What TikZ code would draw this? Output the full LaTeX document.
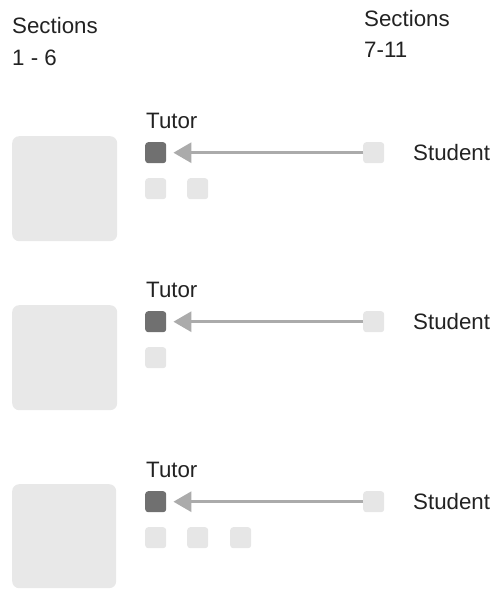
\documentclass[tikz,border=0pt]{standalone}
\usepackage{fontspec}
\setmainfont{Liberation Sans}
\usetikzlibrary{arrows.meta}
\definecolor{txtc}{HTML}{222222}
\definecolor{bigc}{HTML}{E8E8E8}
\definecolor{lightc}{HTML}{E6E6E6}
\definecolor{darkc}{HTML}{707070}
\definecolor{arrowc}{HTML}{ABABAB}
\begin{document}
\begin{tikzpicture}[x=1pt,y=-1pt,
  lbl/.style={anchor=base west, inner sep=0pt, text=txtc, font=\fontsize{22.3}{26}\selectfont},
  bigsq/.style={fill=bigc, rounded corners=7pt, minimum size=105pt, inner sep=0pt, anchor=north west},
  sq/.style={fill=lightc, rounded corners=3pt, minimum size=21pt, inner sep=0pt, anchor=north west},
  tutsq/.style={sq, fill=darkc},
  conn/.style={draw=arrowc, line width=3pt, -{Triangle[length=18pt,width=20pt]}, shorten >=7pt}]
\useasboundingbox (0,0) rectangle (494,589);
% headers
\node[lbl] (h1a) at (12,33) {Sections};
\node[lbl] (h1b) at (12,65) {1 - 6};
\node[lbl] (h2a) at (364,26) {Sections};
\node[lbl] (h2b) at (364,57) {7-11};
% row 1
\node[bigsq] (b1) at (12,136) {};
\node[lbl] (tl1) at (146,128) {Tutor};
\node[tutsq] (t1) at (145,142) {};
\node[sq] (s1) at (363,142) {};
\node[lbl] (sl1) at (413,160) {Student};
\node[sq] (a11) at (145,178) {};
\node[sq] (a12) at (187,178) {};
\draw[conn] (s1.west) -- (t1.east);
% row 2
\node[bigsq] (b2) at (12,305) {};
\node[lbl] (tl2) at (146,297) {Tutor};
\node[tutsq] (t2) at (145,311) {};
\node[sq] (s2) at (363,311) {};
\node[lbl] (sl2) at (413,329) {Student};
\node[sq] (a21) at (145,347) {};
\draw[conn] (s2.west) -- (t2.east);
% row 3
\node[bigsq, minimum size=104pt] (b3) at (12,484) {};
\node[lbl] (tl3) at (146,477) {Tutor};
\node[tutsq] (t3) at (145,491) {};
\node[sq] (s3) at (363,491) {};
\node[lbl] (sl3) at (413,509) {Student};
\node[sq] (a31) at (145,527) {};
\node[sq] (a32) at (187,527) {};
\node[sq] (a33) at (230,527) {};
\draw[conn] (s3.west) -- (t3.east);
\end{tikzpicture}
\end{document}
